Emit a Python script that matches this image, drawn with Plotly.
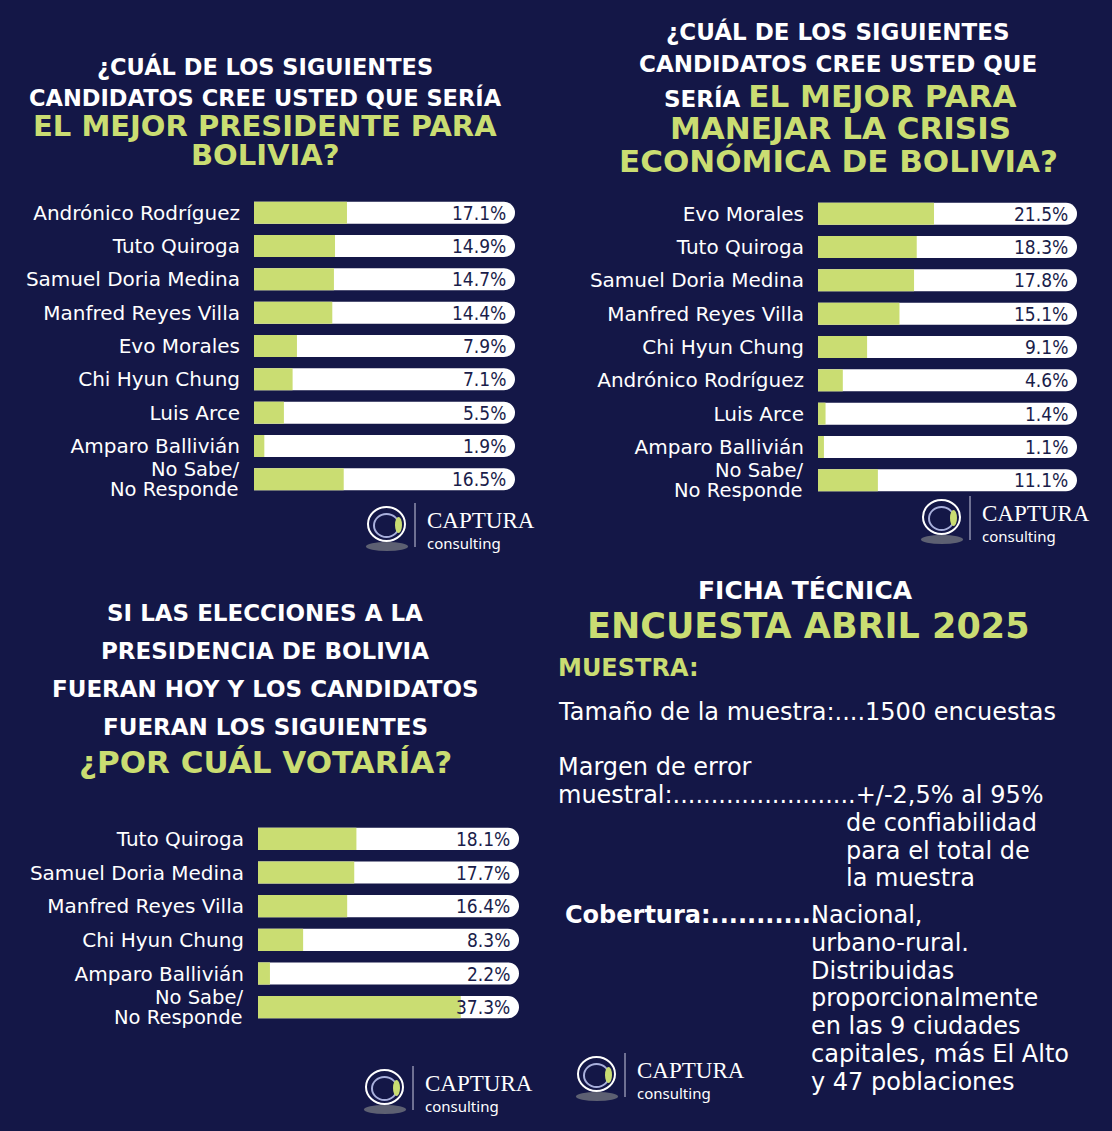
import plotly.graph_objects as go

W, H = 1112, 1131
BG = '#141747'
GREEN = '#cadd72'
NAVY = '#1a1d4a'

# Data
cand_presidente = ['Andrónico Rodríguez', 'Tuto Quiroga', 'Samuel Doria Medina', 'Manfred Reyes Villa',
                   'Evo Morales', 'Chi Hyun Chung', 'Luis Arce', 'Amparo Ballivián', 'No Sabe/ No Responde']
val_presidente = [17.1, 14.9, 14.7, 14.4, 7.9, 7.1, 5.5, 1.9, 16.5]

cand_crisis = ['Evo Morales', 'Tuto Quiroga', 'Samuel Doria Medina', 'Manfred Reyes Villa',
               'Chi Hyun Chung', 'Andrónico Rodríguez', 'Luis Arce', 'Amparo Ballivián', 'No Sabe/ No Responde']
val_crisis = [21.5, 18.3, 17.8, 15.1, 9.1, 4.6, 1.4, 1.1, 11.1]

cand_voto = ['Tuto Quiroga', 'Samuel Doria Medina', 'Manfred Reyes Villa', 'Chi Hyun Chung',
             'Amparo Ballivián', 'No Sabe/ No Responde']
val_voto = [18.1, 17.7, 16.4, 8.3, 2.2, 37.3]

TRACK_MAX = 48
LABEL_FONT = 'DejaVu Sans'
TITLE_FONT = 'DejaVu Sans'
BODY = 'DejaVu Sans'


def px(x):
    return x / W


def py(y):
    return 1 - y / H


fig = go.Figure()

panels = [
    (cand_presidente, val_presidente, 'x', 'y'),
    (cand_crisis, val_crisis, 'x2', 'y2'),
    (cand_voto, val_voto, 'x3', 'y3'),
]

for cats, vals, xa, ya in panels:
    # white track
    fig.add_trace(go.Bar(
        y=cats, x=[TRACK_MAX] * len(cats), orientation='h', xaxis=xa, yaxis=ya,
        marker=dict(color='white', cornerradius=11, line=dict(width=0)), width=0.66,
        hoverinfo='skip', showlegend=False,
    ))
    # green fill
    fig.add_trace(go.Bar(
        y=cats, x=vals, orientation='h', xaxis=xa, yaxis=ya,
        marker=dict(color=GREEN, cornerradius=10, line=dict(width=0)), width=0.66,
        hoverinfo='skip', showlegend=False,
    ))
    # percentages at the right end of the track
    for c, v in zip(cats, vals):
        fig.add_annotation(x=TRACK_MAX, y=c, xref=xa, yref=ya, text=f'{v}%', showarrow=False,
                           xanchor='right', yanchor='middle', xshift=-7,
                           font=dict(family='DejaVu Sans Condensed, DejaVu Sans', size=19, color=NAVY))
    # two-line label for the last category
    last = cats[-1]
    first, second = last.split('/ ')
    for s, dy in [(first + '/', 10), (second, -10)]:
        fig.add_annotation(x=0, y=last, xref=xa, yref=ya, text=s, showarrow=False,
                           xanchor='right', yanchor='middle', xshift=-13, yshift=dy,
                           font=dict(family=LABEL_FONT, size=19.5, color='white'))

xaxis_common = dict(range=[0, TRACK_MAX], visible=False, fixedrange=True)


def yaxis_for(cats):
    return dict(range=[len(cats) - 0.5, -0.5], showgrid=False, zeroline=False, showline=False,
                ticks='', ticklabelstandoff=13, tickmode='array', tickvals=cats,
                ticktext=cats[:-1] + [''], fixedrange=True,
                tickfont=dict(family=LABEL_FONT, size=20, color='white'))


fig.update_layout(
    width=W, height=H, paper_bgcolor=BG, plot_bgcolor=BG,
    margin=dict(l=0, r=0, t=0, b=0), barmode='overlay',
    xaxis=dict(domain=[px(254), px(515)], anchor='y', **xaxis_common),
    yaxis=dict(domain=[py(496), py(196)], anchor='x', **yaxis_for(cand_presidente)),
    xaxis2=dict(domain=[px(818), px(1077)], anchor='y2', **xaxis_common),
    yaxis2=dict(domain=[py(497), py(197)], anchor='x2', **yaxis_for(cand_crisis)),
    xaxis3=dict(domain=[px(258), px(519)], anchor='y3', **xaxis_common),
    yaxis3=dict(domain=[py(1024), py(822)], anchor='x3', **yaxis_for(cand_voto)),
)


def text(x, y, s, size, color='white', weight=700, family=TITLE_FONT, anchor='center'):
    fig.add_annotation(x=px(x), y=py(y), xref='paper', yref='paper', text=s, showarrow=False,
                       xanchor=anchor, yanchor='middle',
                       font=dict(family=family, size=size, color=color, weight=weight))


# Titles chart 1
text(265, 67, '¿CUÁL DE LOS SIGUIENTES', 22.5)
text(265, 97, 'CANDIDATOS CREE USTED QUE SERÍA', 22.5)
text(265, 126, 'EL MEJOR PRESIDENTE PARA', 29, GREEN)
text(265, 155, 'BOLIVIA?', 29, GREEN)

# Titles chart 2
text(838, 31, '¿CUÁL DE LOS SIGUIENTES', 23)
text(838, 64, 'CANDIDATOS CREE USTED QUE', 23)
text(840, 96, f'SERÍA <span style="color:{GREEN};font-size:31px">EL MEJOR PARA</span>', 23)
text(840, 128, 'MANEJAR LA CRISIS', 31, GREEN)
text(838, 161, 'ECONÓMICA DE BOLIVIA?', 31, GREEN)

# Titles chart 3
text(265, 613, 'SI LAS ELECCIONES A LA', 23)
text(265, 651, 'PRESIDENCIA DE BOLIVIA', 23)
text(265, 689, 'FUERAN HOY Y LOS CANDIDATOS', 23)
text(265, 727, 'FUERAN LOS SIGUIENTES', 23)
text(265, 762, '¿POR CUÁL VOTARÍA?', 31, GREEN)

# Ficha tecnica
text(805, 590, 'FICHA TÉCNICA', 25)
text(808, 626, 'ENCUESTA ABRIL 2025', 35, GREEN)
text(556, 668, 'MUESTRA:', 24, GREEN, anchor='left')
text(556, 712, 'Tamaño de la muestra:....1500 encuestas', 24, weight=400, family=BODY, anchor='left')
text(556, 767, 'Margen de error', 24, weight=400, family=BODY, anchor='left')
text(556, 795, 'muestral:........................+/-2,5% al 95%', 24, weight=400, family=BODY, anchor='left')
for i, line in enumerate(['de confiabilidad', 'para el total de', 'la muestra']):
    text(844, 823 + i * 27.5, line, 24, weight=400, family=BODY, anchor='left')
text(563, 915, 'Cobertura:............', 24, weight=700, family=BODY, anchor='left')
cob = ['Nacional,', 'urbano-rural.', 'Distribuidas', 'proporcionalmente',
       'en las 9 ciudades', 'capitales, más El Alto', 'y 47 poblaciones']
for i, line in enumerate(cob):
    text(809, 915 + i * 27.8, line, 24, weight=400, family=BODY, anchor='left')


def add_logo(x0, y0):
    fig.add_shape(type='circle', xref='paper', yref='paper',
                  x0=px(x0 - 2), x1=px(x0 + 40), y0=py(y0 + 44), y1=py(y0 + 35),
                  fillcolor='#5d6072', line=dict(width=0))
    fig.add_shape(type='circle', xref='paper', yref='paper',
                  x0=px(x0), x1=px(x0 + 37), y0=py(y0 + 34), y1=py(y0),
                  fillcolor='rgba(0,0,0,0)', line=dict(color='white', width=2))
    fig.add_shape(type='circle', xref='paper', yref='paper',
                  x0=px(x0 + 6), x1=px(x0 + 31), y0=py(y0 + 30), y1=py(y0 + 7),
                  fillcolor='rgba(0,0,0,0)', line=dict(color='#a9b0dc', width=2))
    fig.add_shape(type='circle', xref='paper', yref='paper',
                  x0=px(x0 + 27), x1=px(x0 + 34), y0=py(y0 + 26), y1=py(y0 + 10),
                  fillcolor=GREEN, line=dict(width=0))
    fig.add_shape(type='line', xref='paper', yref='paper',
                  x0=px(x0 + 47), x1=px(x0 + 47), y0=py(y0 - 4), y1=py(y0 + 40),
                  line=dict(color='#c9cbe0', width=1))
    text(x0 + 57, y0 + 13, 'CAPTURA', 23, weight=400, family='Liberation Serif', anchor='left')
    text(x0 + 57, y0 + 36, 'consulting', 15, weight=400, family='Noto Sans', anchor='left')


add_logo(368, 507)
add_logo(923, 500)
add_logo(366, 1070)
add_logo(578, 1057)

fig.write_html('out.html', config={'displayModeBar': False},
               post_script="document.body.style.margin='0';document.body.style.overflow='hidden';")
